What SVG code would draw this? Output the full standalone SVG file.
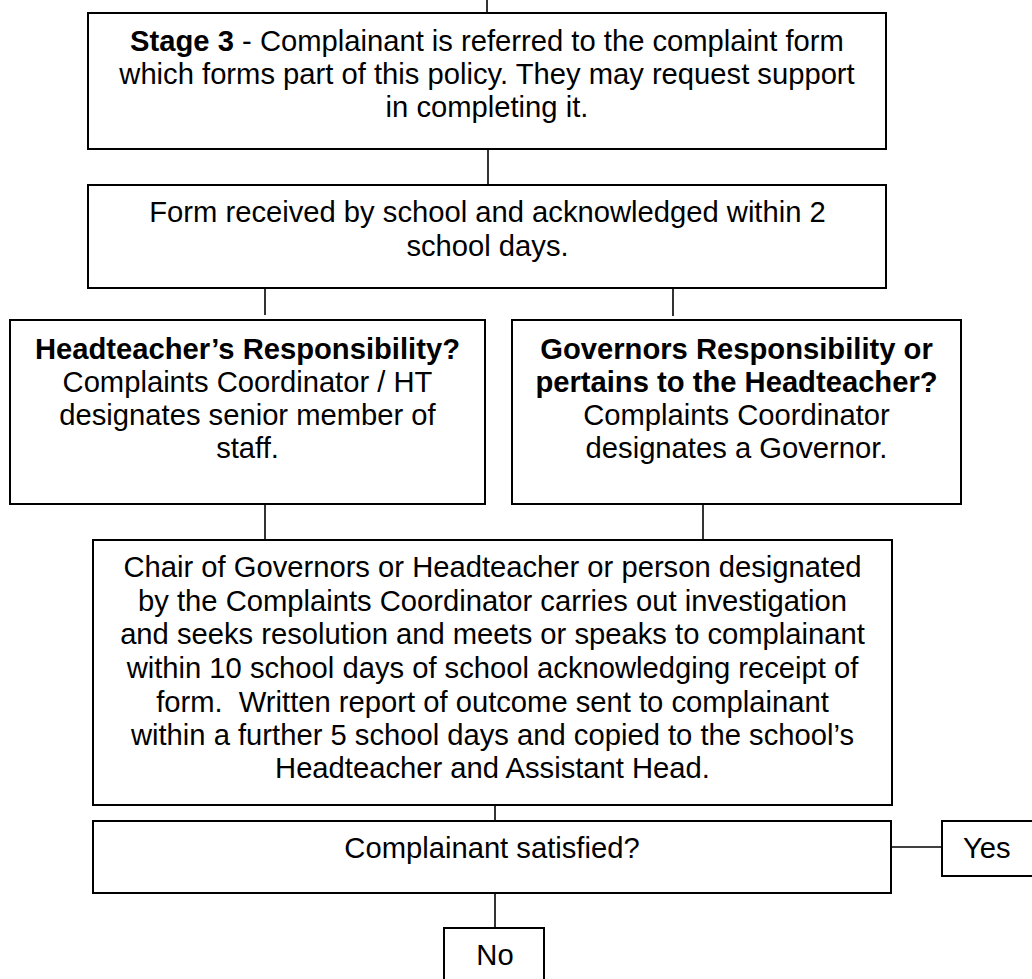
<svg xmlns="http://www.w3.org/2000/svg" width="1032" height="979" viewBox="0 0 1032 979">
<style>
.box{fill:#fff;stroke:#000;stroke-width:2}
.ln{stroke:#000;stroke-width:1.6;fill:none}
text{font-family:"Liberation Sans",Arial,sans-serif;font-size:29.2px;fill:#000}
.c{text-anchor:middle}
.b{font-weight:bold}
</style>
<rect width="1032" height="979" fill="#fff"/>
<g id="connectors">
<line class="ln" x1="487" y1="0" x2="487" y2="25"/>
<line class="ln" x1="488" y1="149" x2="488" y2="197"/>
<line class="ln" x1="265" y1="281" x2="265" y2="315"/>
<line class="ln" x1="673" y1="281" x2="673" y2="316"/>
<line class="ln" x1="265" y1="504" x2="265" y2="547"/>
<line class="ln" x1="703" y1="504" x2="703" y2="547"/>
<line class="ln" x1="495" y1="799" x2="495" y2="823"/>
<line class="ln" x1="495" y1="880" x2="495" y2="928"/>
<line class="ln" x1="891" y1="847" x2="942" y2="847"/>
</g>
<g id="stage3">
<rect class="box" x="88" y="13" width="798" height="136"/>
<text class="c" x="487" y="51"><tspan class="b">Stage 3</tspan> - Complainant is referred to the complaint form</text>
<text class="c" x="487" y="84">which forms part of this policy. They may request support</text>
<text class="c" x="487" y="117">in completing it.</text>
</g>
<g id="form-received">
<rect class="box" x="88" y="185" width="798" height="103"/>
<text class="c" x="487.5" y="222">Form received by school and acknowledged within 2</text>
<text class="c" x="487.5" y="256">school days.</text>
</g>
<g id="headteacher">
<rect class="box" x="10" y="320" width="475" height="184"/>
<text class="c b" x="247.5" y="359">Headteacher’s Responsibility?</text>
<text class="c" x="247.5" y="392">Complaints Coordinator / HT</text>
<text class="c" x="247.5" y="425">designates senior member of</text>
<text class="c" x="247.5" y="458">staff.</text>
</g>
<g id="governors">
<rect class="box" x="512" y="320" width="449" height="184"/>
<text class="c b" x="736.5" y="359">Governors Responsibility or</text>
<text class="c b" x="736.5" y="392">pertains to the Headteacher?</text>
<text class="c" x="736.5" y="425">Complaints Coordinator</text>
<text class="c" x="736.5" y="458">designates a Governor.</text>
</g>
<g id="investigation">
<rect class="box" x="93" y="540" width="799" height="265"/>
<text class="c" x="492.5" y="577">Chair of Governors or Headteacher or person designated</text>
<text class="c" x="492.5" y="611">by the Complaints Coordinator carries out investigation</text>
<text class="c" x="492.5" y="644">and seeks resolution and meets or speaks to complainant</text>
<text class="c" x="492.5" y="678">within 10 school days of school acknowledging receipt of</text>
<text class="c" x="492.5" y="712">form.&#160; Written report of outcome sent to complainant</text>
<text class="c" x="492.5" y="745">within a further 5 school days and copied to the school’s</text>
<text class="c" x="492.5" y="778">Headteacher and Assistant Head.</text>
</g>
<g id="satisfied">
<rect class="box" x="93" y="821" width="798" height="72"/>
<text class="c" x="492" y="858">Complainant satisfied?</text>
</g>
<g id="yes">
<rect class="box" x="942" y="821" width="100" height="55"/>
<text x="963" y="858">Yes</text>
</g>
<g id="no">
<rect class="box" x="444" y="928" width="100" height="60"/>
<text class="c" x="495" y="965">No</text>
</g>
</svg>
